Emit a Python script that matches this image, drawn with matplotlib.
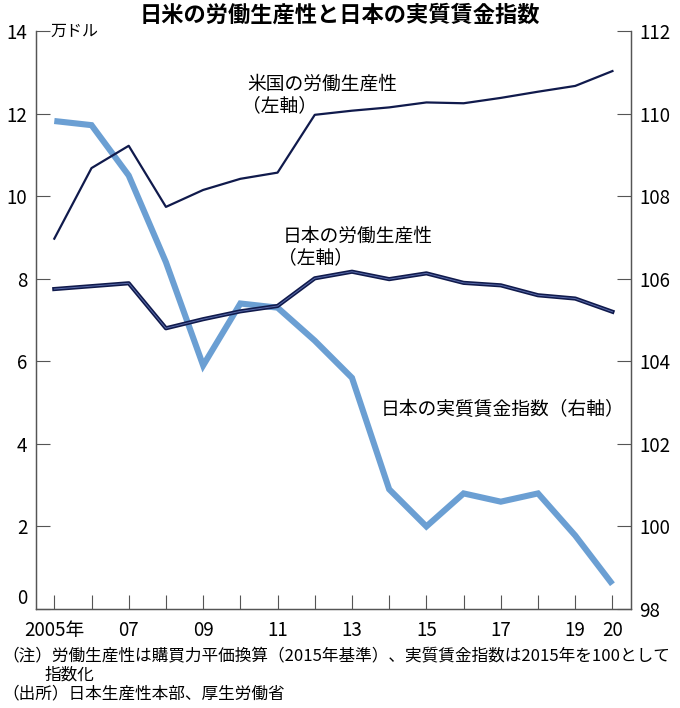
import matplotlib
matplotlib.use("Agg")
import matplotlib.pyplot as plt

plt.rcParams['font.family'] = ['Noto Sans CJK JP', 'DejaVu Sans']

# data
years = list(range(2005, 2021))
us_productivity = [8.97, 10.68, 11.22, 9.74, 10.15, 10.42, 10.57, 11.97, 12.07, 12.15,
                   12.27, 12.25, 12.38, 12.53, 12.67, 13.03]
jp_productivity = [7.75, 7.82, 7.89, 6.80, 7.02, 7.21, 7.34, 8.01, 8.17, 7.99,
                   8.13, 7.90, 7.84, 7.60, 7.52, 7.20]
jp_real_wage = [109.82, 109.72, 108.50, 106.40, 103.90, 105.40, 105.30, 104.50, 103.60, 100.90,
                100.00, 100.80, 100.60, 100.80, 99.78, 98.60]
tick_labels = ['2005年', '', '07', '', '09', '', '11', '', '13', '', '15', '', '17', '', '19', '20']

navy = '#101a4c'
light_blue = '#6b9fd3'

fig = plt.figure(figsize=(6.8, 7.08), dpi=100)
ax = fig.add_axes([0.0525, 0.1398, 0.8755, 0.8164])
ax2 = ax.twinx()

# wage line sits under the productivity lines
ax.set_zorder(ax2.get_zorder() + 1)
ax.patch.set_visible(False)

ax2.plot(years, jp_real_wage, color=light_blue, lw=4.4, solid_capstyle='butt', solid_joinstyle='miter')
ax.plot(years, us_productivity, color=navy, lw=1.6)
ax.plot(years, jp_productivity, color=navy, lw=3.0)
ax.plot(years, jp_productivity, color='#5a6cab', lw=0.7)

ax.set_xlim(2004.5, 2020.5)
ax.set_ylim(0, 14)
ax2.set_ylim(98, 112)

ax.set_xticks(years)
ax.set_xticklabels(tick_labels)
ax.set_yticks(range(0, 15, 2))
ax2.set_yticks(range(98, 113, 2))

for a in (ax, ax2):
    a.spines['top'].set_visible(False)
    for s in a.spines.values():
        s.set_color('#555555')
        s.set_linewidth(0.9)
ax.tick_params(axis='y', direction='in', length=10, width=0.8, color='#555555',
               labelsize=13.5, pad=6)
ax.tick_params(axis='x', direction='in', length=10, width=0.8, color='#555555',
               labelsize=13.5, pad=8)
ax2.tick_params(axis='y', direction='in', length=10, width=0.8, color='#555555',
                labelsize=13.5, pad=6)
ax.get_yticklabels()[0].set_va('bottom')

# unit label
ax.text(0.025, 1.0, '万ドル', transform=ax.transAxes, ha='left', va='center', fontsize=11.5)

# series labels
ax.text(2010.2, 12.72, '米国の労働生産性', fontsize=13.5, ha='left', va='center')
ax.text(2010.05, 12.2, '（左軸）', fontsize=13.5, ha='left', va='center')
ax.text(2011.15, 9.03, '日本の労働生産性', fontsize=13.5, ha='left', va='center')
ax.text(2011.0, 8.5, '（左軸）', fontsize=13.5, ha='left', va='center')
ax.text(2013.76, 4.83, '日本の実質賃金指数（右軸）', fontsize=13.5, ha='left', va='center')

fig.text(0.5, 0.978, '日米の労働生産性と日本の実質賃金指数', ha='center', va='center',
         fontsize=16, fontweight='bold')

fig.text(0.004, 0.074, '（注）労働生産性は購買力平価換算（2015年基準）、実質賃金指数は2015年を100として',
         ha='left', va='center', fontsize=12)
fig.text(0.066, 0.047, '指数化', ha='left', va='center', fontsize=12)
fig.text(0.004, 0.0206, '（出所）日本生産性本部、厚生労働省', ha='left', va='center', fontsize=12)

fig.savefig('out.png', dpi=100)
